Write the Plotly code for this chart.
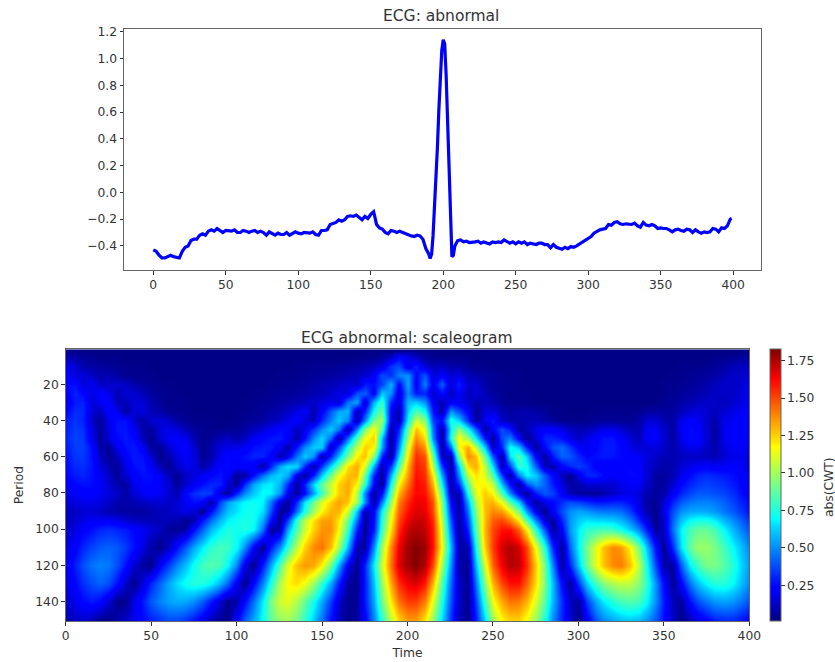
import plotly.graph_objects as go

W, H = 835, 662

# ---------- ECG trace ----------
ecg_t = [0,2,4,6,8,10,12,14,16,18,20,22,24,26,28,30,32,34,36,38,40,42,44,46,48,50,52,54,56,58,
         60,62,64,66,68,70,72,74,76,78,80,82,84,86,88,90,92,94,96,98,100,102,104,106,108,110,112,114,116,118,
         120,122,124,126,128,130,132,134,136,138,140,142,144,146,148,150,152,154,156,158,160,162,164,166,168,170,172,174,176,178,
         180,182,184,186,188,190,191,192,193,194,195,196,197,198,199,200,201,202,203,204,205,206,207,208,210,212,214,216,218,
         220,222,224,226,228,230,232,234,236,238,240,242,244,246,248,250,252,254,256,258,260,262,264,266,268,270,272,274,276,278,
         280,282,284,286,288,290,292,294,296,298,300,302,304,306,308,310,312,314,316,318,320,322,324,326,328,330,332,334,336,338,
         340,342,344,346,348,350,352,354,356,358,360,362,364,366,368,370,372,374,376,378,380,382,384,386,388,390,392,394,396,398,399]
ecg_v = [-.43,-.44,-.47,-.49,-.49,-.48,-.47,-.48,-.485,-.49,-.44,-.41,-.40,-.36,-.35,-.35,-.32,-.31,-.32,-.29,-.28,-.29,-.27,-.285,-.30,-.285,-.29,-.29,-.28,-.30,
         -.30,-.285,-.29,-.30,-.29,-.285,-.30,-.29,-.30,-.32,-.295,-.31,-.32,-.305,-.315,-.315,-.30,-.32,-.31,-.295,-.305,-.31,-.30,-.30,-.305,-.295,-.315,-.32,-.285,-.285,
         -.28,-.24,-.23,-.225,-.205,-.215,-.205,-.18,-.175,-.18,-.17,-.19,-.205,-.18,-.195,-.165,-.145,-.24,-.265,-.275,-.30,-.31,-.285,-.29,-.30,-.29,-.30,-.31,-.32,-.325,
         -.33,-.32,-.325,-.35,-.42,-.46,-.495,-.46,-.32,-.12,.10,.34,.62,.88,1.06,1.14,1.11,.88,.52,.10,-.30,-.48,-.47,-.40,-.36,-.355,-.37,-.365,-.375,
         -.375,-.37,-.365,-.38,-.37,-.375,-.385,-.37,-.375,-.37,-.375,-.355,-.37,-.38,-.37,-.385,-.37,-.38,-.37,-.39,-.38,-.385,-.39,-.38,-.38,-.39,-.39,-.415,-.39,-.41,
         -.42,-.425,-.41,-.42,-.405,-.41,-.40,-.385,-.37,-.36,-.34,-.33,-.305,-.29,-.28,-.275,-.27,-.24,-.245,-.225,-.22,-.235,-.24,-.235,-.24,-.24,-.23,-.25,-.26,-.225,
         -.245,-.25,-.24,-.25,-.27,-.265,-.27,-.27,-.28,-.295,-.28,-.275,-.285,-.29,-.275,-.28,-.30,-.28,-.295,-.305,-.295,-.30,-.295,-.27,-.275,-.295,-.265,-.27,-.25,-.20,-.195]

# ---------- scaleogram (hundredths of abs(CWT)) ----------
time_ticks = list(range(0, 401, 5))
periods = [1,5,10,15,20,25,30,35,40,45,50,55,60,65,70,75,80,85,90,95,100,110,120,130,140,150]

p001 = [3,3,2,2,2,2,2,2,2,2, 2,2,2,2,2,2,2,2,2,2, 2,2,2,2,2,2,2,2,2,2, 2,2,2,2,2,2,2,2,2,3, 4,3,2,2,2,2,2,2,2,2, 2,2,2,2,2,2,2,2,2,2, 2,2,2,2,2,2,2,2,2,2, 2,2,2,2,2,2,2,2,2,2, 3]
p005 = [10,7,5,4,3,3,3,2,2,2, 2,2,2,2,2,2,2,2,2,2, 2,2,2,2,2,2,2,2,2,2, 2,2,2,2,3,3,4,6,12,25, 18,12,6,4,3,3,3,3,2,2, 2,2,2,2,2,2,2,2,2,2, 2,2,2,2,2,2,2,2,2,2, 2,2,2,2,2,2,3,3,4,6, 8]
p010 = [20,14,8,7,6,5,4,3,3,3, 2,2,2,2,2,2,2,2,2,2, 2,2,2,2,2,2,2,3,3,4, 4,4,5,6,7,9,11,16,33,38, 16,30,14,10,12,8,8,4,3,3, 2,2,2,2,2,2,2,2,2,2, 2,2,2,2,2,2,2,2,2,2, 2,2,3,3,3,4,5,7,10,10, 14]
p015 = [24,14,16,12,8,9,6,4,3,3, 3,2,2,2,2,2,2,2,2,2, 2,2,2,2,2,3,3,3,4,5, 5,6,7,9,11,14,20,38,32,48, 52,24,40,15,22,14,16,10,8,6, 5,4,3,3,2,2,2,2,2,2, 2,2,2,2,2,2,2,2,2,2, 2,3,3,4,5,6,7,10,13,12, 18]
p020 = [24,26,14,20,12,12,14,12,8,5, 4,3,3,2,2,2,2,2,2,2, 2,2,2,2,3,3,4,4,5,7, 8,10,12,15,12,28,26,35,58,22, 55,20,48,18,42,14,30,12,14,7, 5,4,3,3,2,2,2,2,2,2, 2,2,2,2,2,2,2,2,2,2, 3,3,4,5,6,8,10,13,12,14, 20]
p025 = [20,30,24,16,22,18,9,14,14,10, 6,4,3,3,2,2,2,2,2,2, 2,2,3,3,4,5,5,6,7,9, 10,13,17,15,38,42,20,62,50,14, 50,28,30,12,25,10,22,10,15,10, 6,4,3,3,3,2,2,2,2,2, 2,2,2,2,2,2,2,2,2,2, 3,4,5,7,8,10,12,12,12,16, 20]
p030 = [18,28,30,14,20,22,10,10,15,14, 9,5,3,3,3,2,2,2,2,2, 2,3,3,4,5,6,7,9,11,13, 16,19,14,46,55,12,58,80,30,14, 58,62,52,20,8,22,18,14,8,12, 8,5,3,3,3,2,2,2,2,2, 2,2,2,2,2,2,2,2,2,2, 4,5,7,9,11,13,12,11,13,17, 20]
p035 = [24,31,31,14,10,24,20,6,15,16, 10,7,4,3,3,2,2,2,2,2, 2,3,4,5,7,9,12,17,21,8, 22,40,55,58,8,30,72,90,20,8, 62,85,72,28,6,52,38,22,4,15, 16,9,7,8,8,7,5,3,3,2, 2,2,3,3,3,3,3,4,6,7, 6,6,10,14,16,13,11,14,17,20, 21]
p040 = [28,33,30,12,5,18,26,26,14,6, 14,15,12,7,4,3,3,3,2,2, 3,4,5,7,10,13,18,23,14,10, 30,48,62,48,6,48,92,100,18,8, 70,108,95,35,25,75,62,32,4,18, 28,12,8,8,9,10,8,5,3,3, 3,3,4,5,5,4,4,7,14,14, 9,6,18,22,20,12,8,17,20,22, 22]
p045 = [29,35,33,16,5,16,27,27,20,8, 6,15,18,16,10,6,4,3,3,4, 5,7,11,15,20,25,24,10,18,34, 50,62,45,5,50,95,118,85,4,30, 88,128,112,45,5,68,98,72,42,5, 22,38,28,6,10,18,22,22,18,12, 9,10,14,18,18,14,10,8,20,20, 13,6,20,25,23,13,6,18,22,22, 21]
p050 = [30,36,34,18,4,16,24,28,24,10, 3,14,20,22,18,9,3,6,10,12, 8,12,20,24,27,28,22,7,25,50, 64,42,4,45,85,115,125,60,3,40, 100,138,122,50,4,75,118,100,68,28, 4,38,48,22,3,14,30,30,26,18, 12,18,22,27,27,22,15,10,20,21, 14,6,18,25,24,14,6,18,22,22, 20]
p055 = [28,35,35,25,8,5,18,26,28,20, 6,5,14,20,22,14,3,8,16,18, 18,20,26,28,28,20,6,28,50,62, 62,8,38,75,105,125,118,55,3,50, 112,148,135,72,5,45,115,132,105,62, 10,30,72,62,28,4,24,38,44,34, 22,18,24,28,28,24,18,14,15,16, 12,8,14,18,18,12,8,16,20,20, 18]
p060 = [26,33,34,26,12,4,10,22,28,26, 14,3,8,16,20,16,4,8,18,24, 24,26,30,30,22,7,20,45,62,50, 5,30,60,92,118,128,95,30,4,65, 120,155,148,90,12,8,95,138,128,90, 40,5,65,85,62,22,4,28,42,40, 30,24,26,28,27,24,22,20,16,12, 10,9,10,12,12,11,9,14,18,18, 16]
p065 = [25,31,32,27,16,8,5,18,26,28, 20,10,4,13,18,17,8,14,24,25, 22,24,20,5,30,55,66,64,30,5, 35,65,92,122,132,110,55,6,35,85, 130,158,152,105,35,5,62,122,132,105, 65,8,35,78,72,42,10,8,22,30, 35,30,22,20,20,24,24,22,14,10, 8,9,14,18,20,22,20,21,22,20, 16]
p070 = [24,28,30,26,20,12,5,14,22,26, 26,20,10,4,12,16,20,24,27,20, 4,7,25,45,58,64,55,18,4,30, 62,92,115,128,130,90,30,3,55,105, 135,160,155,120,55,4,50,105,122,110, 85,35,4,48,70,62,40,24,10,4, 18,30,30,24,20,22,25,24,14,6, 6,9,18,25,30,32,30,28,26,22, 18]
p075 = [20,24,26,25,20,14,8,6,18,24, 24,20,14,6,13,20,26,30,30,14, 4,32,55,66,68,58,32,4,30,65, 88,108,125,132,118,78,22,4,72,118, 142,162,158,130,70,6,32,88,118,118, 105,60,25,4,38,52,42,28,16,6, 8,14,14,14,14,18,20,20,12,6, 6,14,24,30,34,36,34,32,28,24, 19]
p080 = [16,20,22,22,20,16,13,7,15,20, 22,20,14,9,24,32,36,34,14,5, 30,50,62,70,68,52,20,4,25,55, 82,108,125,132,105,48,4,25,85,130, 150,162,160,140,85,10,8,72,112,125, 118,85,50,18,3,28,40,35,22,10, 6,5,5,8,12,16,18,16,8,6, 8,20,30,36,40,40,38,36,32,26, 20]
p085 = [13,16,18,18,16,12,8,7,9,11, 13,14,12,14,20,26,22,5,36,54, 64,70,72,68,45,15,4,32,68,92, 112,125,134,126,100,50,5,48,98,140, 156,166,164,148,95,22,5,55,102,128, 130,115,88,62,25,5,18,24,32,38, 36,32,28,28,30,30,26,16,6,4, 14,30,40,46,48,48,46,42,36,30, 24]
p090 = [10,12,14,14,12,9,7,6,6,6, 8,10,12,14,18,14,4,25,45,60, 66,72,72,65,38,5,8,45,75,100, 118,130,130,108,60,8,22,70,110,145, 160,168,166,150,100,30,4,45,95,128, 138,135,118,92,52,18,3,22,38,50, 55,52,48,46,46,44,35,20,8,3, 18,38,50,55,56,55,52,46,40,34, 26]
p095 = [10,13,17,20,20,20,18,14,12,10, 10,10,10,8,4,8,28,44,58,68, 72,74,72,55,25,4,36,78,105,122, 134,134,120,90,45,5,24,76,116,150, 166,172,170,155,105,38,4,36,90,128, 146,150,140,120,85,48,15,5,30,52, 62,66,64,64,62,58,48,32,15,3, 14,42,60,70,74,74,68,58,50,42, 32]
p100 = [12,16,22,26,30,32,30,28,24,20, 15,11,5,4,8,25,42,58,68,75, 72,75,70,45,5,10,55,85,108,125, 136,136,118,80,30,3,28,80,122,155, 172,175,172,158,110,45,4,30,85,130, 150,160,160,145,118,75,38,4,22,52, 68,78,80,82,80,72,62,48,28,4, 12,45,68,82,88,88,82,70,58,48, 38]
p110 = [16,22,30,36,40,42,40,34,26,16, 8,3,12,25,40,55,68,78,82,80, 70,50,20,3,28,50,78,105,125,138, 142,128,100,58,8,6,50,100,138,165, 178,182,178,160,115,58,7,8,72,125, 152,170,175,170,150,115,75,30,4,42, 70,92,112,128,138,135,118,92,60,25, 3,32,65,88,98,98,92,82,70,60, 48]
p120 = [18,28,38,45,48,46,38,26,14,6, 3,22,35,48,60,72,82,85,82,70, 48,16,3,28,55,85,112,128,135,132, 118,90,55,18,3,30,68,108,142,168, 178,182,175,150,100,50,7,4,58,110, 145,165,175,172,155,125,90,48,5,30, 62,90,112,128,138,140,128,105,72,36, 7,5,40,68,82,92,92,86,76,64, 52]
p130 = [16,24,32,38,42,38,26,12,3,16, 30,42,55,65,72,76,75,70,58,42, 18,3,24,48,75,102,118,122,115,98, 78,55,28,6,3,28,60,98,132,155, 165,168,158,130,85,42,12,3,45,95, 130,150,160,160,145,122,92,58,24,4, 35,62,82,95,102,106,105,95,78,50, 24,4,22,45,60,70,76,76,70,60, 48]
p140 = [12,18,24,28,24,14,3,3,18,28, 40,48,54,56,55,50,40,28,14,3, 8,25,45,68,92,108,112,102,88,72, 55,34,14,3,5,28,55,90,120,142, 152,152,140,112,75,38,12,3,35,80, 115,132,142,140,130,110,85,58,32,12, 5,35,55,68,76,82,85,82,70,50, 28,10,5,25,38,46,52,54,52,46, 38]
p150 = [9,12,14,10,5,3,8,12,18,24, 30,34,38,38,34,28,20,10,5,3, 22,40,55,72,88,98,100,92,78,62, 45,26,10,3,6,22,48,78,105,125, 135,135,122,98,65,32,10,3,28,65, 100,118,125,125,115,98,75,50,30,14, 3,20,40,50,56,60,62,60,52,40, 25,12,3,10,18,24,30,32,32,28, 22]

rows = [p001,p005,p010,p015,p020,p025,p030,p035,p040,p045,p050,p055,p060,p065,p070,p075,p080,p085,p090,p095,p100,p110,p120,p130,p140,p150]
assert all(len(r) == len(time_ticks) for r in rows), [len(r) for r in rows]
cwt = [[v / 100 for v in r] for r in rows]

jet = [[0.0,"rgb(0,0,128)"],[0.11,"rgb(0,0,255)"],[0.125,"rgb(0,0,255)"],[0.35,"rgb(0,220,255)"],[0.375,"rgb(0,255,255)"],
       [0.64,"rgb(255,255,0)"],[0.66,"rgb(255,230,0)"],[0.89,"rgb(255,0,0)"],[1.0,"rgb(128,0,0)"]]

TXT = "#333333"
SPINE = "#666666"
FONT = "DejaVu Sans"
TICK = 12.3
TITLE = 15.5

fig = go.Figure()
fig.add_trace(go.Scatter(x=ecg_t, y=ecg_v, mode="lines", line=dict(color="#0000ff", width=3.2), xaxis="x", yaxis="y", showlegend=False))
fig.add_trace(go.Heatmap(x=time_ticks, y=periods, z=cwt, zmin=0.01, zmax=1.826, zsmooth="best", colorscale=jet, xaxis="x2", yaxis="y2",
    colorbar=dict(x=770/W, xanchor="left", y=1-485.2/H, yanchor="middle", lenmode="pixels", len=271.7, thicknessmode="pixels", thickness=11,
                  xpad=0, ypad=0, outlinecolor=SPINE, outlinewidth=1, ticks="outside", ticklen=3.5, tickcolor=TXT,
                  tickvals=[0.25,0.5,0.75,1.0,1.25,1.5,1.75], ticktext=["0.25","0.50","0.75","1.00","1.25","1.50","1.75"],
                  tickfont=dict(family=FONT,size=TICK,color=TXT))))

axis = dict(showgrid=False, zeroline=False, showline=True, linecolor=SPINE, linewidth=1, mirror=True, ticks="outside", ticklen=3.5, tickcolor=TXT,
            tickfont=dict(family=FONT,size=TICK,color=TXT))
fig.update_layout(
    width=W, height=H, margin=dict(l=0,r=0,t=0,b=0,autoexpand=False), paper_bgcolor="white", plot_bgcolor="white", autosize=False,
    xaxis=dict(axis, domain=[124/W,761/W], range=[-20.2,419.2], tickvals=list(range(0,401,50)), anchor="y"),
    yaxis=dict(axis, domain=[1-270/H,1-29/H], range=[-0.58,1.22], tickvals=[-.4,-.2,0,.2,.4,.6,.8,1,1.2],
               ticktext=["\u22120.4","\u22120.2","0.0","0.2","0.4","0.6","0.8","1.0","1.2"], anchor="x"),
    xaxis2=dict(axis, domain=[65.7/W,749.3/W], range=[0,400], tickvals=list(range(0,401,50)), anchor="y2",
                title=dict(text="Time", font=dict(family=FONT,size=TICK,color=TXT), standoff=6)),
    yaxis2=dict(axis, domain=[1-621/H,1-349.3/H], range=[150.7,0.67], tickvals=list(range(20,141,20)), anchor="x2",
                title=dict(text="Period", font=dict(family=FONT,size=TICK,color=TXT), standoff=8)),
    annotations=[
        dict(text="ECG: abnormal", x=441/W, y=1-16/H, xref="paper", yref="paper", showarrow=False, xanchor="center", yanchor="middle", font=dict(family=FONT,size=TITLE,color=TXT)),
        dict(text="ECG abnormal: scaleogram", x=407/W, y=1-338/H, xref="paper", yref="paper", showarrow=False, xanchor="center", yanchor="middle", font=dict(family=FONT,size=TITLE,color=TXT)),
        dict(text="abs(CWT)", x=829/W, y=1-487/H, xref="paper", yref="paper", showarrow=False, xanchor="center", yanchor="middle", textangle=-90, font=dict(family=FONT,size=TICK,color=TXT)),
    ],
)
fig.write_html("out.html", config=dict(displayModeBar=False), post_script="document.body.style.margin='0';document.documentElement.style.overflow='hidden';")
